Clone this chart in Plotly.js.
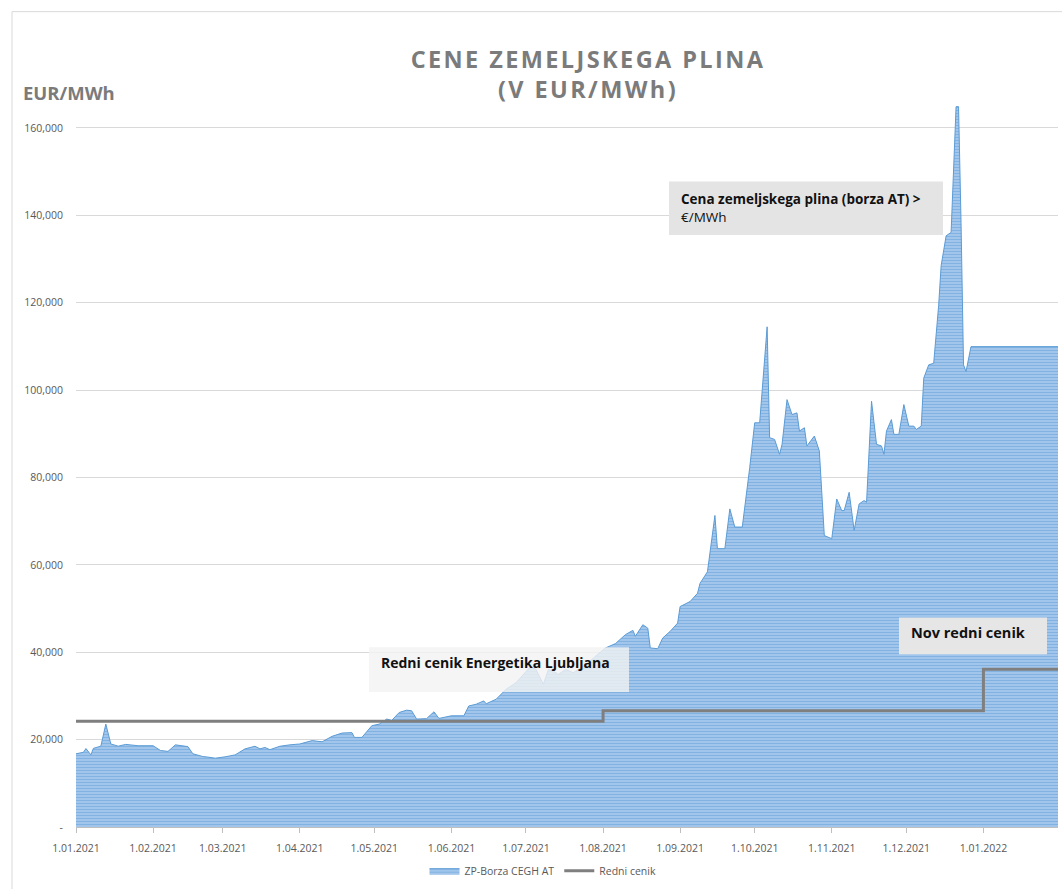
<!DOCTYPE html>
<html>
<head>
<meta charset="utf-8">
<script src="https://cdn.plot.ly/plotly-3.0.1.min.js"></script>
<style>
  html, body { margin: 0; padding: 0; background: #ffffff; }
  #chart { width: 1062px; height: 889px; }
  .gtitle { letter-spacing: 2.4px; }
</style>
</head>
<body>
<div id="chart"></div>
<script>
// ---- data (EUR/MWh) ----
const gasDates = [
  '2021-01-01','2021-01-04','2021-01-05','2021-01-07','2021-01-08','2021-01-11','2021-01-13','2021-01-15',
  '2021-01-18','2021-01-21','2021-01-26','2021-01-30','2021-02-01','2021-02-04','2021-02-07','2021-02-10',
  '2021-02-12','2021-02-15','2021-02-17','2021-02-21','2021-02-23','2021-02-26','2021-03-02','2021-03-06',
  '2021-03-10','2021-03-14','2021-03-16','2021-03-18','2021-03-20','2021-03-24','2021-03-28','2021-04-01',
  '2021-04-06','2021-04-10','2021-04-14','2021-04-18','2021-04-22','2021-04-23','2021-04-26','2021-04-30',
  '2021-05-03','2021-05-06','2021-05-08','2021-05-11','2021-05-14','2021-05-16','2021-05-18','2021-05-22',
  '2021-05-25','2021-05-27','2021-06-01','2021-06-06','2021-06-08','2021-06-11','2021-06-14','2021-06-15',
  '2021-06-19','2021-06-23','2021-06-27','2021-07-01','2021-07-03','2021-07-05','2021-07-08','2021-07-10',
  '2021-07-12','2021-07-14','2021-07-17','2021-07-20','2021-07-22','2021-07-26','2021-07-29','2021-08-02',
  '2021-08-06','2021-08-10','2021-08-13','2021-08-14','2021-08-17','2021-08-19','2021-08-20','2021-08-23',
  '2021-08-25','2021-08-28','2021-08-31','2021-09-01','2021-09-05','2021-09-08','2021-09-09','2021-09-12',
  '2021-09-15','2021-09-16','2021-09-19','2021-09-21','2021-09-23','2021-09-26','2021-09-29','2021-10-01',
  '2021-10-03','2021-10-06','2021-10-07','2021-10-09','2021-10-11','2021-10-12','2021-10-14','2021-10-16',
  '2021-10-18','2021-10-19','2021-10-21','2021-10-22','2021-10-25','2021-10-27','2021-10-29','2021-11-01',
  '2021-11-03','2021-11-05','2021-11-06','2021-11-08','2021-11-10','2021-11-12','2021-11-14','2021-11-15',
  '2021-11-17','2021-11-19','2021-11-21','2021-11-22','2021-11-23','2021-11-25','2021-11-26','2021-11-28',
  '2021-11-30','2021-12-02','2021-12-04','2021-12-05','2021-12-07','2021-12-08','2021-12-10','2021-12-12',
  '2021-12-14','2021-12-15','2021-12-17','2021-12-19','2021-12-21','2021-12-22','2021-12-23','2021-12-24',
  '2021-12-25','2021-12-27','2022-01-31'
];
const gasPrices = [
  16.75,17.10,17.95,16.50,18.00,18.50,23.56,19.00,
  18.50,18.90,18.60,18.50,18.60,17.50,17.30,18.80,
  18.60,18.40,16.75,16.13,16.00,15.75,16.06,16.50,
  17.88,18.48,17.88,18.20,17.70,18.48,18.80,19.00,
  19.77,19.50,20.75,21.50,21.60,20.50,20.50,23.18,
  23.56,24.70,24.40,26.20,26.74,26.60,24.70,24.80,
  26.36,24.85,25.45,25.45,27.70,28.10,28.86,28.20,
  29.24,31.52,33.03,35.68,36.82,36.06,32.65,36.06,
  35.68,34.92,36.06,35.30,36.06,37.58,39.09,40.98,
  41.97,44.02,45.00,43.64,46.29,45.50,40.98,40.80,
  43.25,44.77,46.66,50.45,51.59,53.48,55.75,58.41,
  71.29,63.70,63.70,72.80,68.64,68.64,82.27,92.50,
  92.50,114.47,89.09,88.70,85.30,87.57,97.80,94.39,
  94.77,90.61,91.36,87.20,89.47,86.06,66.70,65.98,
  75.07,72.42,72.42,76.59,67.88,73.93,74.70,74.32,
  97.43,87.57,87.20,85.30,90.60,93.24,89.85,89.85,
  96.67,91.74,91.74,90.98,91.74,102.73,105.76,106.13,
  119.39,128.48,135.30,136.06,164.85,164.85,138.33,105.76,
  104.24,109.93,109.93
];
const tariffDates = ['2021-01-01','2021-08-01','2022-01-01','2022-01-31'];
const tariffPrices = [24.2, 26.6, 36.1, 36.1];

const seriesNames = ['ZP-Borza CEGH AT', 'Redni cenik'];
const xTickVals = ['2021-01-01','2021-02-01','2021-03-01','2021-04-01','2021-05-01','2021-06-01','2021-07-01',
                   '2021-08-01','2021-09-01','2021-10-01','2021-11-01','2021-12-01','2022-01-01'];
const xTickText = ['1.01.2021','1.02.2021','1.03.2021','1.04.2021','1.05.2021','1.06.2021','1.07.2021',
                   '1.08.2021','1.09.2021','1.10.2021','1.11.2021','1.12.2021','1.01.2022'];
const yTickVals = [0, 20, 40, 60, 80, 100, 120, 140, 160];
const yTickText = ['-', '20,000', '40,000', '60,000', '80,000', '100,000', '120,000', '140,000', '160,000'];

const titleText = 'CENE ZEMELJSKEGA PLINA<br>(V EUR/MWh)';
const unitLabel = 'EUR/MWh';
const noteMarket = '<b>Cena zemeljskega plina (borza AT) &gt;</b><br>€/MWh';
const noteTariff = '<b>Redni cenik Energetika Ljubljana</b>';
const noteNew = '<b>Nov redni cenik</b>';

// ---- layout geometry helpers (plot area: x 76..1058, y 106..832) ----
const PL = 76, PR = 1058, PT = 106, PB = 832;
const px = v => (v - PL) / (PR - PL);
const py = v => (PB - v) / (PB - PT);

const traces = [
  {
    type: 'scatter', mode: 'lines', name: seriesNames[0],
    x: gasDates, y: gasPrices,
    fill: 'tozeroy',
    line: { color: '#5b9bd5', width: 1 },
    fillcolor: '#8fbbe6',
    fillpattern: { shape: '-', fgcolor: '#5a98d4', bgcolor: '#abcdee', size: 3, solidity: 0.5, fillmode: 'overlay' }
  },
  {
    type: 'scatter', mode: 'lines', name: seriesNames[1],
    x: tariffDates, y: tariffPrices,
    line: { color: '#7f7f7f', width: 3, shape: 'hv' }
  }
];

const font = 'Open Sans, Noto Sans, sans-serif';

const layout = {
  width: 1062, height: 889,
  margin: { l: PL, r: 1062 - PR, t: PT, b: 889 - PB, pad: 0 },
  paper_bgcolor: '#ffffff', plot_bgcolor: '#ffffff',
  font: { family: font, color: '#595959', size: 10.5 },
  title: {
    text: titleText,
    font: { family: font, size: 23.5, color: '#7b7b7b', weight: 700 },
    xref: 'paper', x: px(588), xanchor: 'center',
    yref: 'container', y: 1 - 67.5 / 889, yanchor: 'middle'
  },
  xaxis: {
    type: 'date', range: ['2021-01-01', '2022-01-31'],
    tickvals: xTickVals, ticktext: xTickText,
    showgrid: false, zeroline: false,
    showline: true, linecolor: '#bfbfbf', linewidth: 1,
    ticks: 'outside', ticklen: 5, tickcolor: '#bfbfbf', tickwidth: 1,
    ticklabelstandoff: 6,
    tickfont: { family: font, size: 10.5, color: '#595959' },
    fixedrange: true
  },
  yaxis: {
    range: [0, 165],
    tickvals: yTickVals, ticktext: yTickText,
    showgrid: true, gridcolor: '#d9d9d9', gridwidth: 1,
    zeroline: false, showline: false, ticks: '',
    ticklabelstandoff: 12,
    tickfont: { family: font, size: 10.5, color: '#595959' },
    fixedrange: true
  },
  showlegend: true,
  legend: {
    orientation: 'h', x: px(543), xanchor: 'center', y: -(876 - PB) / (PB - PT), yanchor: 'middle',
    font: { family: font, size: 10.5, color: '#595959' },
    bgcolor: 'rgba(0,0,0,0)', itemwidth: 30, tracegroupgap: 0
  },
  shapes: [
    { type: 'rect', xref: 'paper', yref: 'paper', x0: px(12), x1: px(1080), y0: py(905), y1: py(11),
      line: { color: '#d9d9d9', width: 1 }, fillcolor: 'rgba(0,0,0,0)', layer: 'below' },
    { type: 'rect', xref: 'paper', yref: 'paper', x0: px(669), x1: px(943), y0: py(236), y1: py(182),
      line: { width: 0 }, fillcolor: '#e4e4e4', layer: 'above' },
    { type: 'rect', xref: 'paper', yref: 'paper', x0: px(369), x1: px(629), y0: py(696), y1: py(651),
      line: { width: 0 }, fillcolor: 'rgba(242,242,242,0.8)', layer: 'above' },
    { type: 'rect', xref: 'paper', yref: 'paper', x0: px(899), x1: px(1047), y0: py(658), y1: py(621),
      line: { width: 0 }, fillcolor: '#e6e6e6', layer: 'above' }
  ],
  annotations: [
    { text: unitLabel, xref: 'paper', yref: 'paper', x: px(21), y: py(92), xanchor: 'left', yanchor: 'middle',
      showarrow: false, font: { family: font, size: 18.5, color: '#7b7b7b', weight: 700 } },
    { text: noteMarket, xref: 'paper', yref: 'paper', x: px(679), y: py(209), xanchor: 'left', yanchor: 'middle',
      align: 'left', showarrow: false, font: { family: font, size: 13.5, color: '#111111' } },
    { text: noteTariff, xref: 'paper', yref: 'paper', x: px(379), y: py(666), xanchor: 'left', yanchor: 'middle',
      align: 'left', showarrow: false, font: { family: font, size: 14, color: '#111111' } },
    { text: noteNew, xref: 'paper', yref: 'paper', x: px(909), y: py(636), xanchor: 'left', yanchor: 'middle',
      align: 'left', showarrow: false, font: { family: font, size: 14.5, color: '#111111' } }
  ]
};

Plotly.newPlot('chart', traces, layout, { displayModeBar: false, staticPlot: true });
</script>
</body>
</html>
